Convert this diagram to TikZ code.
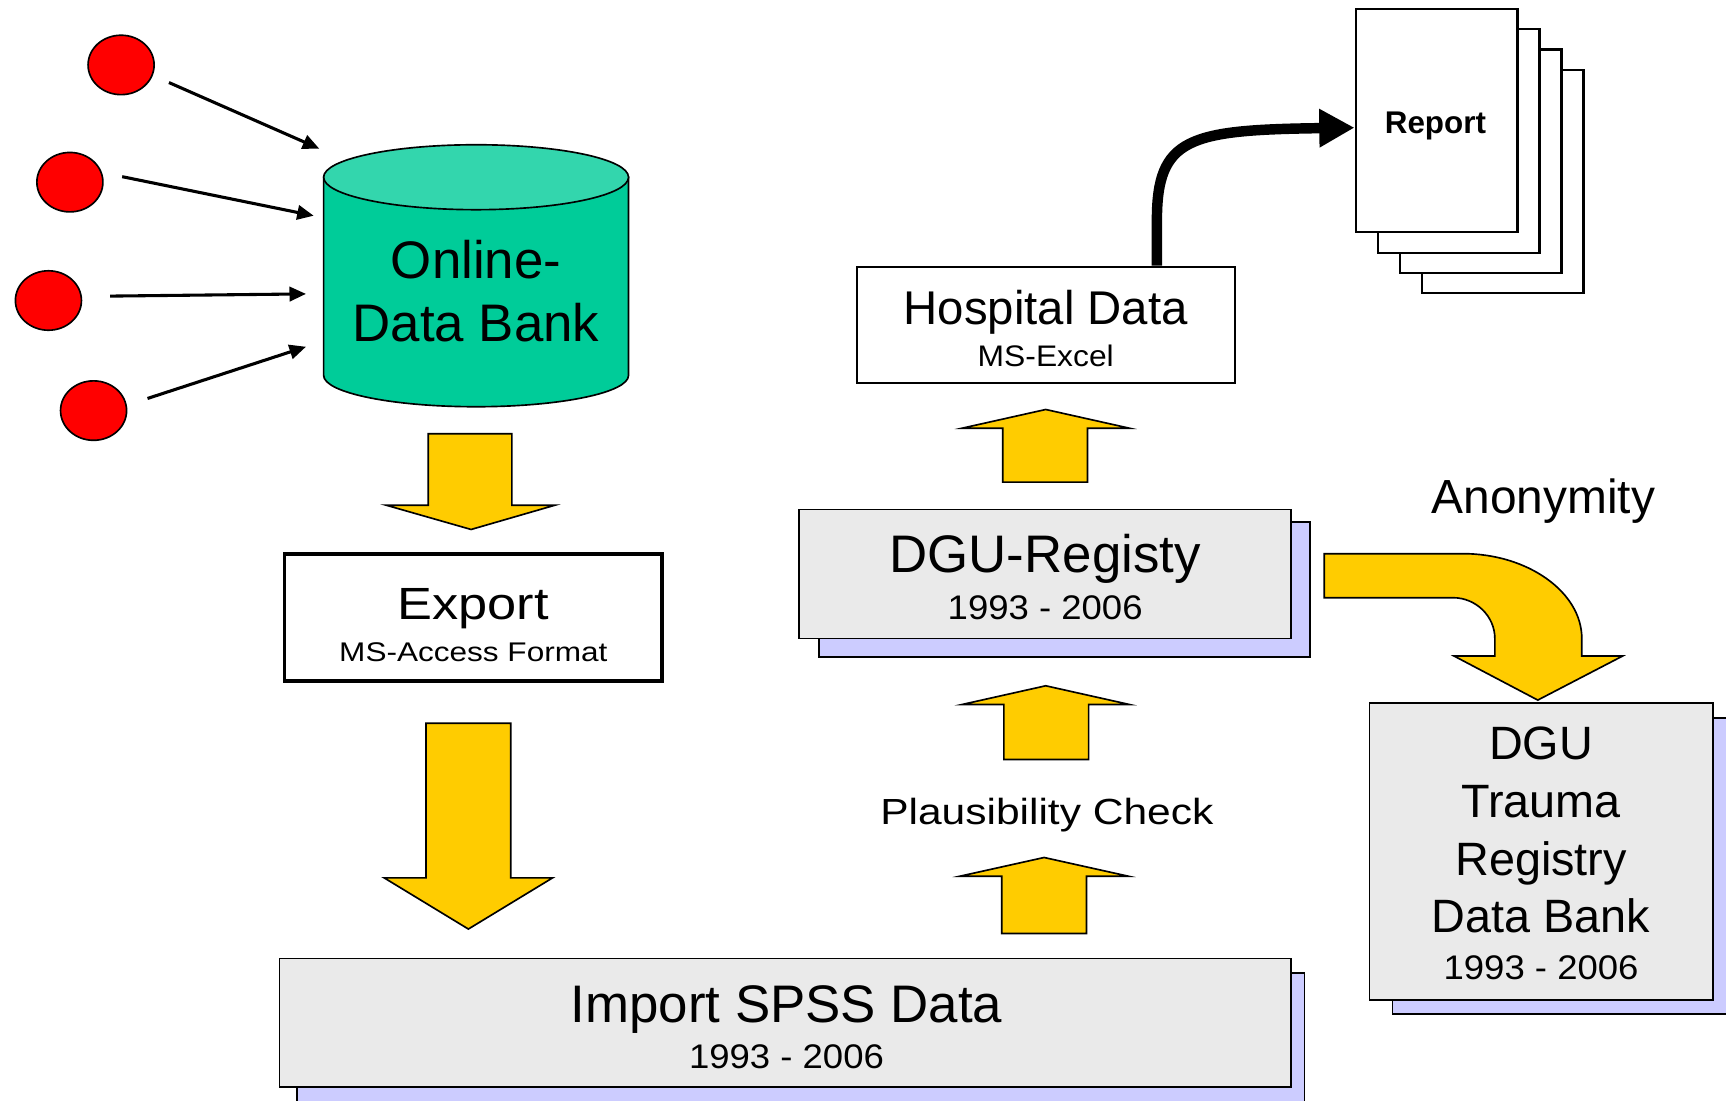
\documentclass[tikz,border=0pt]{standalone}
\usepackage{fontspec}
\setmainfont{Liberation Sans}
\usepackage{graphicx}
\usetikzlibrary{arrows.meta,shapes.geometric}
\definecolor{dotred}{HTML}{FF0000}
\definecolor{cylbody}{HTML}{00CC99}
\definecolor{cyltop}{HTML}{33D6AD}
\definecolor{arrowyel}{HTML}{FFCC00}
\definecolor{boxgray}{HTML}{EAEAEA}
\definecolor{shadowlav}{HTML}{CCCCFF}
\newcommand\hx[2]{\scalebox{#1}[1]{#2}}
\newcommand\fs[1]{\fontsize{#1}{#1}\selectfont}
\begin{document}
\begin{tikzpicture}[x=1pt,y=-1pt,
  dot/.style={ellipse,draw=black,fill=dotred,line width=1.5pt,minimum width=60pt,minimum height=54pt,inner sep=0pt},
  feed/.style={line width=2.8pt,-{Triangle[length=15pt,width=13pt]}},
  blockarr/.style={draw=black,fill=arrowyel,line width=1.5pt,line join=miter},
  plainbox/.style={draw=black,fill=white,inner sep=0pt},
  graybox/.style={draw=black,fill=boxgray,line width=1.5pt,inner sep=0pt},
  shadowbox/.style={draw=black,fill=shadowlav,line width=1.5pt},
  page/.style={draw=black,fill=white,line width=2pt,minimum width=147pt,minimum height=203pt,inner sep=0pt},
  txt/.style={anchor=base,inner sep=0pt}]
\useasboundingbox (0,0) rectangle (1568,1000);

% source dots
\node[dot] (dot1) at (110,59) {};
\node[dot] (dot2) at (63.5,165.5) {};
\node[dot] (dot3) at (44,273) {};
\node[dot] (dot4) at (85,373) {};

% cylinder
\filldraw[fill=cylbody,line width=1.5pt] (294,161) -- (294,341) .. controls (294,356.7) and (356,369.5) .. (432.5,369.5) .. controls (509,369.5) and (571,356.7) .. (571,341) -- (571,161) -- cycle;
\filldraw[fill=cyltop,line width=1.5pt] (432.5,161) ellipse [x radius=138.5pt, y radius=29.5pt];
\coordinate (odb) at (432.5,265);
\node[txt,font=\fs{48}] (odb1) at (432.5,253) {Online-};
\node[txt,font=\fs{48}] (odb2) at (432.5,310) {Data Bank};

% feed arrows
\coordinate (s1) at (153.5,75);   \coordinate (e1) at (290,135);
\coordinate (s2) at (111,160.5);  \coordinate (e2) at (285,196);
\coordinate (s3) at (100,269);    \coordinate (e3) at (278,267);
\coordinate (s4) at (134,362);    \coordinate (e4) at (278,315);
\draw[feed] (s1) -- (e1);
\draw[feed] (s2) -- (e2);
\draw[feed] (s3) -- (e3);
\draw[feed] (s4) -- (e4);

% block arrows
\draw[blockarr] (389,394) -- (465,394) -- (465,459) -- (504,459) -- (428,481) -- (351,459) -- (389,459) -- cycle;
\draw[blockarr] (387,657) -- (464,657) -- (464,797.5) -- (502,797.5) -- (425.5,844) -- (349,797.5) -- (387,797.5) -- cycle;
\draw[blockarr] (911,438) -- (988,438) -- (988,389) -- (1026,389) -- (950,372) -- (874,389) -- (911,389) -- cycle;
\draw[blockarr] (912,690) -- (989,690) -- (989,640) -- (1026,640) -- (950,623) -- (874,640) -- (912,640) -- cycle;
\draw[blockarr] (910,848) -- (987,848) -- (987,796) -- (1025,796) -- (948.5,779) -- (872,796) -- (910,796) -- cycle;
\draw[blockarr] (1203,503) -- (1329,503) .. controls (1388,503) and (1437,538) .. (1437,580) -- (1437,596) -- (1474,596) -- (1397,636) -- (1321,596) -- (1358,596) -- (1358,580) .. controls (1358,560) and (1341,543) .. (1320,543) -- (1203,543) -- cycle;

% export box
\node[plainbox,line width=3pt,minimum width=343pt,minimum height=115.5pt] (exp) at (430,561) {};
\node[txt,font=\fs{41}] (expt) at (430,563) {\hx{1.16}{Export}};
\node[txt,font=\fs{24.5}] (exps) at (430,601) {\hx{1.17}{MS-Access Format}};

% hospital box
\node[plainbox,line width=2pt,minimum width=343.5pt,minimum height=105.7pt] (hosp) at (950,295.2) {};
\node[txt,font=\fs{43}] (hospt) at (950,294.4) {Hospital Data};
\node[txt,font=\fs{27}] (hosps) at (950,332.5) {\hx{1.07}{MS-Excel}};

% DGU registy
\filldraw[shadowbox] (744,474) rectangle (1190,597);
\node[graybox,minimum width=447pt,minimum height=117pt] (reg) at (949.5,521.5) {};
\node[txt,font=\fs{48}] (regt) at (949.5,520) {DGU-Registy};
\node[txt,font=\fs{31}] (regy) at (949.5,563) {\hx{1.07}{1993 - 2006}};

% import
\filldraw[shadowbox] (270,884) rectangle (1185,1010);
\node[graybox,minimum width=919pt,minimum height=116.6pt] (imp) at (713.5,929) {};
\node[txt,font=\fs{48}] (impt) at (714.5,929) {Import SPSS Data};
\node[txt,font=\fs{31}] (impy) at (714.5,971) {\hx{1.07}{1993 - 2006}};

% trauma registry
\filldraw[shadowbox] (1265,652.5) rectangle (1580,921);
\node[graybox,minimum width=312pt,minimum height=270pt] (tra) at (1400,773.5) {};
\node[txt,font=\fs{42.5}] (tra1) at (1400,689.7) {DGU};
\node[txt,font=\fs{42.5}] (tra2) at (1400,743) {Trauma};
\node[txt,font=\fs{42.5}] (tra3) at (1400,795.8) {Registry};
\node[txt,font=\fs{42.5}] (tra4) at (1400,847.4) {Data Bank};
\node[txt,font=\fs{31}] (tra5) at (1400,889.5) {\hx{1.07}{1993 - 2006}};

% labels
\node[txt,font=\fs{43.5}] (anon) at (1402,466.3) {Anonymity};
\node[txt,font=\fs{33}] (plaus) at (951,748.6) {\hx{1.17}{Plausibility Check}};

% report pages
\node[page] (rep4) at (1365,165) {};
\node[page] (rep3) at (1345,146.5) {};
\node[page] (rep2) at (1325,128) {};
\node[page] (rep1) at (1305,109.5) {};
\node[txt,font=\fs{28.5}\bfseries] (rept) at (1304,121) {Report};

% curved report arrow
\coordinate (hout) at ([xshift=101pt]hosp.north);
\coordinate (rin) at ([yshift=-6.5pt]rep1.west);
\draw[line width=9.5pt,-{Triangle[length=32pt,width=33pt]}] (hout) -- (1051,200) .. controls (1051,125) and (1080,118) .. (rin);
\end{tikzpicture}
\end{document}
